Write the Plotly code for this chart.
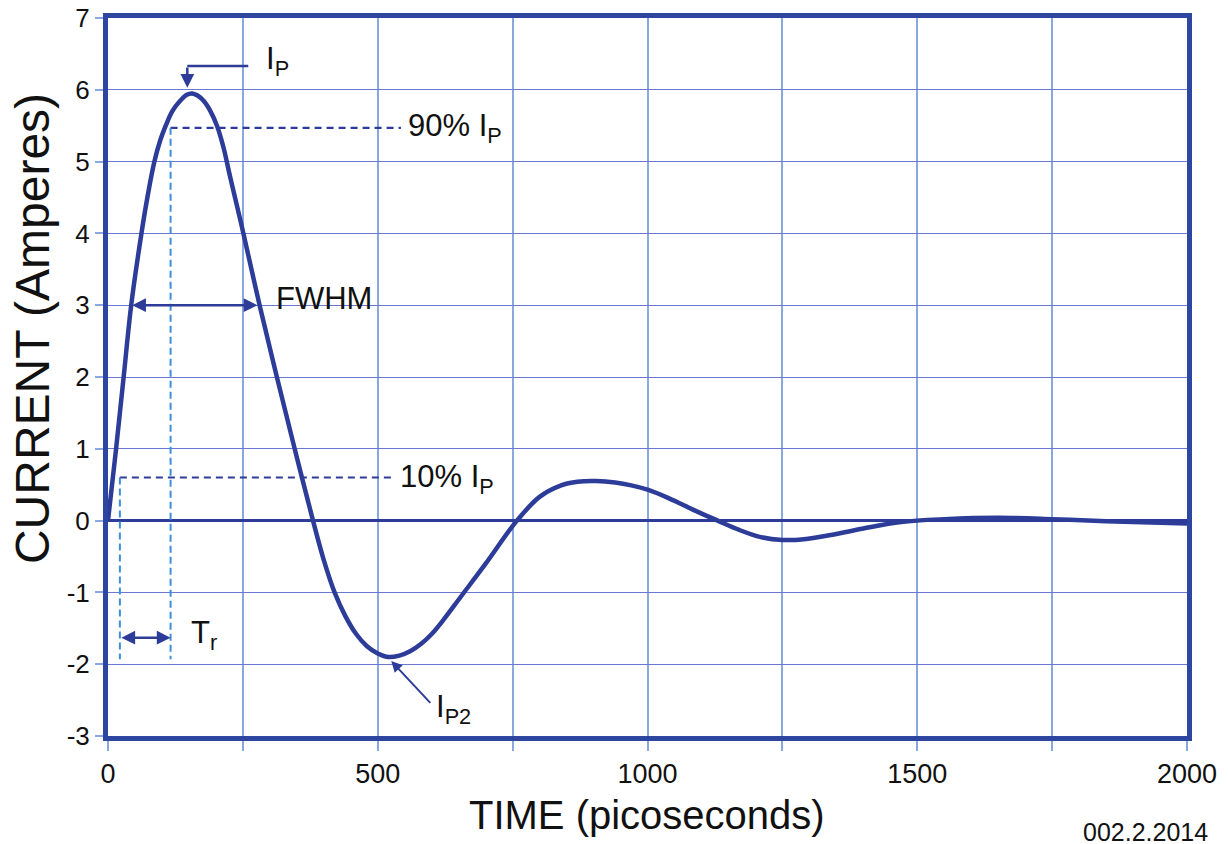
import plotly.graph_objects as go

# ---- data ----
time_ps = [0, 15, 29, 43, 62, 73, 86, 97, 107, 119,
           133, 146, 156, 166, 178, 190, 202, 214, 226, 251,
           281, 313, 346, 380, 400, 420, 440, 460, 480, 500,
           520, 540, 560, 580, 600, 620, 655, 700, 758, 800,
           840, 870, 905, 940, 970, 1000, 1040, 1085, 1130, 1170,
           1210, 1250, 1290, 1340, 1400, 1470, 1550, 1650, 1750, 1850,
           2000]
current_a = [0, 1.0, 2.0, 3.0, 4.0, 4.5, 5.0, 5.3, 5.5, 5.7,
             5.84, 5.93, 5.95, 5.92, 5.84, 5.7, 5.5, 5.2, 4.8, 4.0,
             3.0, 2.0, 1.0, 0.0, -0.55, -1.0, -1.33, -1.58, -1.75, -1.85,
             -1.9, -1.88, -1.82, -1.72, -1.58, -1.4, -1.05, -0.6, 0.0, 0.33,
             0.49, 0.54, 0.55, 0.53, 0.49, 0.43, 0.31, 0.15, 0.0, -0.13,
             -0.23, -0.27, -0.26, -0.2, -0.11, -0.02, 0.02, 0.04, 0.02, -0.01,
             -0.04]

x_tickvals = [0, 500, 1000, 1500, 2000]
x_ticktext = ["0", "500", "1000", "1500", "2000"]
x_minorvals = [250, 750, 1250, 1750]
y_tickvals = [-3, -2, -1, 0, 1, 2, 3, 4, 5, 6, 7]
y_ticktext = ["-3", "-2", "-1", "0", "1", "2", "3", "4", "5", "6", "7"]

# annotation anchor values
level_90 = 5.47
level_10 = 0.6
level_50 = 3.0
t10 = 22
t90 = 116
fwhm_t = [42, 277]
dash_bottom = -1.93
tr_level = -1.63
ip_arrow_t = 147
ip_tip_y = 6.03
ip_line_y = 6.33
ip_line_end = 260
ip2_tip = (525, -1.955)
ip2_tail = (600, -2.56)

NAVY = "#2c3c98"
FRAME = "#2d469f"
LIGHT = "#3f8ddb"
XGRID = "#8aa8e0"
YGRID = "#6a78cf"
FONT = "Liberation Sans, Arial, sans-serif"

fig = go.Figure()
fig.add_trace(go.Scatter(
    x=time_ps, y=current_a, mode="lines",
    line=dict(color=NAVY, width=4.5, shape="spline", smoothing=1.0),
    showlegend=False, hoverinfo="skip"))

shapes = []
shapes.append(dict(type="line", x0=t90, x1=543, y0=level_90, y1=level_90,
                   line=dict(color=NAVY, width=2.2, dash="7px,5px"), layer="between"))
shapes.append(dict(type="line", x0=t10, x1=528, y0=level_10, y1=level_10,
                   line=dict(color=NAVY, width=2.2, dash="7px,5px"), layer="between"))
shapes.append(dict(type="line", x0=t90, x1=t90, y0=level_90, y1=dash_bottom,
                   line=dict(color=LIGHT, width=2, dash="7px,4px"), layer="between"))
shapes.append(dict(type="line", x0=t10, x1=t10, y0=level_10, y1=dash_bottom,
                   line=dict(color=LIGHT, width=2, dash="7px,4px"), layer="between"))
shapes.append(dict(type="line", x0=ip_arrow_t, x1=ip_line_end, y0=ip_line_y, y1=ip_line_y,
                   line=dict(color=NAVY, width=2.5), layer="above"))

ann = []
tf = dict(family=FONT, size=31, color="#111111")
arrow = dict(xref="x", yref="y", axref="x", ayref="y", text="", showarrow=True,
             arrowhead=2, arrowsize=1.1, arrowwidth=2.5, arrowcolor=NAVY)
ann.append(dict(arrow, x=fwhm_t[1], y=level_50, ax=fwhm_t[0], ay=level_50, arrowside="end+start"))
ann.append(dict(arrow, x=t90, y=tr_level, ax=t10, ay=tr_level, arrowside="end+start"))
ann.append(dict(arrow, x=ip_arrow_t, y=ip_tip_y, ax=ip_arrow_t, ay=ip_line_y))
ann.append(dict(arrow, x=ip2_tip[0], y=ip2_tip[1], ax=ip2_tail[0], ay=ip2_tail[1], arrowwidth=2))

labels = [
    (290, 6.4, "I<sub>P</sub>"),
    (552, 5.47, "90% I<sub>P</sub>"),
    (538, 0.58, "10% I<sub>P</sub>"),
    (308, 3.1, "FWHM"),
    (150, -1.6, "T<sub>r</sub>"),
    (604, -2.62, "I<sub>P2</sub>"),
]
for lx, ly, lt in labels:
    ann.append(dict(x=lx, y=ly, xref="x", yref="y", text=lt, showarrow=False,
                    xanchor="left", yanchor="middle", font=tf))

ann.append(dict(x=-0.0705, y=0.568, xref="paper", yref="paper", text="CURRENT (Amperes)",
                textangle=-90, showarrow=False, xanchor="center", yanchor="middle",
                font=dict(family=FONT, size=48, color="#111111")))
ann.append(dict(x=0.4995, y=-0.110, xref="paper", yref="paper", text="TIME (picoseconds)",
                showarrow=False, xanchor="center", yanchor="middle",
                font=dict(family=FONT, size=40, color="#111111")))
ann.append(dict(x=1.0213, y=-0.1337, xref="paper", yref="paper", text="002.2.2014",
                showarrow=False, xanchor="right", yanchor="middle",
                font=dict(family=FONT, size=25, color="#111111")))

fig.update_layout(
    width=1220, height=836,
    margin=dict(l=100, r=41, t=10, b=108),
    paper_bgcolor="white", plot_bgcolor="white",
    shapes=shapes, annotations=ann,
    font=dict(family=FONT, color="#111111"),
    xaxis=dict(range=[0, 2000], tickmode="array", tickvals=x_tickvals, ticktext=x_ticktext,
               automargin=False, ticklabeloverflow="allow",
               showgrid=True, gridcolor=XGRID, gridwidth=1.5,
               zeroline=False, showline=True, linecolor=FRAME, linewidth=5, mirror=True,
               ticks="outside", ticklen=10, tickcolor=XGRID, tickwidth=1.5,
               tickfont=dict(family=FONT, size=27, color="#111111"),
               minor=dict(tickmode="array", tickvals=x_minorvals, showgrid=True,
                          gridcolor=XGRID, gridwidth=1.5, ticks="outside",
                          ticklen=10, tickcolor=XGRID, tickwidth=1.5)),
    yaxis=dict(range=[-3, 7], tickmode="array", tickvals=y_tickvals, ticktext=y_ticktext,
               automargin=False, ticklabeloverflow="allow",
               showgrid=True, gridcolor=YGRID, gridwidth=1,
               zeroline=True, zerolinecolor=NAVY, zerolinewidth=3,
               showline=True, linecolor=FRAME, linewidth=5, mirror=True,
               ticks="outside", ticklen=8, tickcolor=XGRID, tickwidth=1.5,
               tickfont=dict(family=FONT, size=26, color="#111111")),
)

fig.write_html("out.html")
